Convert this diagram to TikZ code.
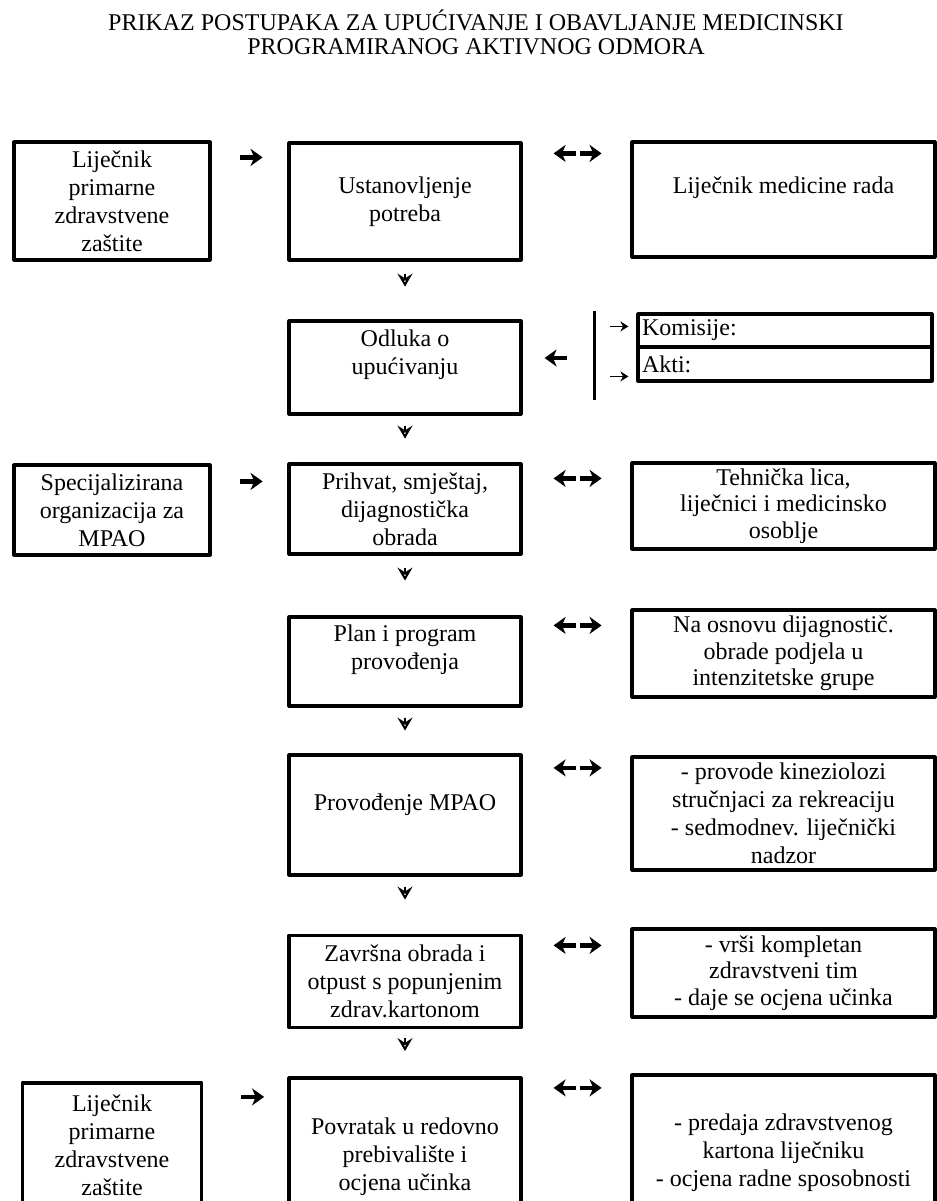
\documentclass[tikz,border=0pt]{standalone}
\usepackage{fontspec}
\setmainfont{Liberation Serif}
\usetikzlibrary{arrows.meta}
\begin{document}
\begin{tikzpicture}[line join=round, x=0.5pt, y=0.5pt,
  box/.style={draw, line width=1.6pt, align=center, inner sep=2pt,
    font=\fontsize{12}{14}\selectfont},
  tight/.style={font=\fontsize{12}{13.2}\selectfont},
  fat/.style={line width=2.2pt, -{Stealth[length=6pt,width=8.5pt,inset=1.8pt]}},
  slim/.style={line width=0.9pt, -{Stealth[length=4pt,width=5pt]}},
  down/.style={line width=1pt, -{Stealth[open,length=6.5pt,width=7.5pt,inset=2.4pt]}}]
\useasboundingbox (0,0) rectangle (937,-1201);
\clip (0,0) rectangle (937,-1201);
\node[align=center, font=\fontsize{12}{12.4}\selectfont] (title) at (476,-32.4)
  {PRIKAZ POSTUPAKA ZA UPUĆIVANJE I OBAVLJANJE MEDICINSKI\\PROGRAMIRANOG AKTIVNOG ODMORA};
% prvi red
\node[box, minimum width=98pt, minimum height=59pt] (lpz) at (112,-201)
  {Liječnik\\primarne\\zdravstvene\\zaštite};
\node[box, minimum width=116pt, minimum height=58.5pt] (ust) at (405,-201.5)
  {Ustanovljenje\\potreba};
\node[box, minimum width=151.5pt, minimum height=57.5pt, text depth=14.6pt] (lmr) at (783.5,-199.5)
  {Liječnik medicine rada};
% odluka
\node[box, minimum width=116pt, minimum height=46.5pt, text depth=15.4pt] (odl) at (405,-367.5)
  {Odluka o\\upućivanju};
\node[box, align=left, text width=143pt, minimum height=16.5pt] (kom) at (785,-330.5) {Komisije:};
\node[box, align=left, text width=143pt, minimum height=17pt] (akti) at (785,-364) {Akti:};
% prihvat
\node[box, minimum width=98pt, minimum height=45pt] (spec) at (112,-510)
  {Specijalizirana\\organizacija za\\MPAO};
\node[box, minimum width=116pt, minimum height=45pt] (prih) at (405,-509)
  {Prihvat, smještaj,\\dijagnostička\\obrada};
\node[box, tight, minimum width=151.5pt, minimum height=43pt] (teh) at (783.5,-506)
  {Tehnička lica,\\liječnici i medicinsko\\osoblje};
% plan
\node[box, minimum width=116pt, minimum height=44.5pt, text depth=14.5pt] (plan) at (405,-661.5)
  {Plan i program\\provođenja};
\node[box, tight, minimum width=151.5pt, minimum height=43.5pt] (nao) at (783.5,-653.5)
  {Na osnovu dijagnostič.\\obrade podjela u\\intenzitetske grupe};
% provodjenje
\node[box, minimum width=116pt, minimum height=60pt, text depth=12.6pt] (prov) at (405,-815)
  {Provođenje MPAO};
\node[box, minimum width=151.5pt, minimum height=56.5pt] (kin) at (783.5,-813.5)
  {- provode kineziolozi\\stručnjaci za rekreaciju\\- sedmodnev. liječnički\\nadzor};
% zavrsna obrada
\node[box, minimum width=116pt, minimum height=46pt] (zav) at (405,-981.5)
  {Završna obrada i\\otpust s popunjenim\\zdrav.kartonom};
\node[box, tight, minimum width=151.5pt, minimum height=44pt] (vrs) at (783.5,-973)
  {- vrši kompletan\\zdravstveni tim\\- daje se ocjena učinka};
% povratak
\node[box, minimum width=89.5pt, minimum height=62pt] (lpzb) at (112,-1145)
  {Liječnik\\primarne\\zdravstvene\\zaštite};
\node[box, minimum width=116pt, minimum height=79pt] (povr) at (405,-1157)
  {Povratak u redovno\\prebivalište i\\ocjena učinka};
\node[box, minimum width=151.5pt, minimum height=78pt] (pred) at (783.5,-1153)
  {- predaja zdravstvenog\\kartona liječniku\\- ocjena radne sposobnosti};
% strelice
\draw[fat] ([shift={(28,-17)}]lpz.north east) -- ++(23,0);
\draw[fat] ([shift={(53,-12)}]ust.north east) -- ++(-22,0);
\draw[fat] ([shift={(57,-12)}]ust.north east) -- ++(22,0);
\draw[down] ([yshift=-6pt]ust.south) -- ++(0,-13);
\draw[fat] ([shift={(44,9.5)}]odl.east) -- ++(-22,0);
\draw[line width=1.3pt] ([shift={(-42,1)}]kom.north west) -- ++(0,-89);
\draw[slim] ([shift={(-26,-14)}]kom.north west) -- ++(18,0);
\draw[slim] ([shift={(-26,-64)}]kom.north west) -- ++(18,0);
\draw[down] ([yshift=-5pt]odl.south) -- ++(0,-13);
\draw[fat] ([shift={(28,-18)}]spec.north east) -- ++(23,0);
\draw[fat] ([shift={(53,-16)}]prih.north east) -- ++(-22,0);
\draw[fat] ([shift={(57,-16)}]prih.north east) -- ++(22,0);
\draw[down] ([yshift=-6pt]prih.south) -- ++(0,-13);
\draw[fat] ([shift={(53,-10)}]plan.north east) -- ++(-22,0);
\draw[fat] ([shift={(57,-10)}]plan.north east) -- ++(22,0);
\draw[down] ([yshift=-5pt]plan.south) -- ++(0,-13);
\draw[fat] ([shift={(53,-14.5)}]prov.north east) -- ++(-22,0);
\draw[fat] ([shift={(57,-14.5)}]prov.north east) -- ++(22,0);
\draw[down] ([yshift=-5pt]prov.south) -- ++(0,-13);
\draw[fat] ([shift={(53,-11.5)}]zav.north east) -- ++(-22,0);
\draw[fat] ([shift={(57,-11.5)}]zav.north east) -- ++(22,0);
\draw[down] ([yshift=-4.5pt]zav.south) -- ++(0,-13);
\draw[fat] ([shift={(38,-15.5)}]lpzb.north east) -- ++(23,0);
\draw[fat] ([shift={(53,-11.5)}]povr.north east) -- ++(-22,0);
\draw[fat] ([shift={(57,-11.5)}]povr.north east) -- ++(22,0);
\end{tikzpicture}
\end{document}
